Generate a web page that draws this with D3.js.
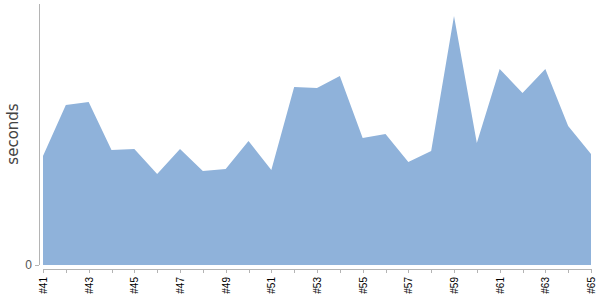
<!DOCTYPE html>
<meta charset="utf-8">
<body style="margin:0">
  <style>
    body { font-family: "DejaVu Sans", sans-serif; }
    .axis path, .axis line { stroke: #b4b4b4; shape-rendering: crispEdges; }
    .area { fill: #8fb2da; }
  </style>
  <script src="https://d3js.org/d3.v7.min.js"></script>
  <script>
    var builds = d3.range(41, 66);
    var seconds = [10.9, 16.0, 16.3, 11.5, 11.6, 9.1, 11.6, 9.4, 9.6, 12.4, 9.5, 17.8, 17.7,
                   18.9, 12.7, 13.1, 10.3, 11.4, 24.9, 12.2, 19.6, 17.2, 19.6, 13.9, 11.1];
    var tickLabels = builds.map(function(b) { return "#" + b; });

    var width = 600, height = 300;

    var svg = d3.select("body").append("svg")
      .attr("width", width)
      .attr("height", height);

    var x = d3.scaleLinear().domain([41, 65]).range([43, 591]);
    var y = d3.scaleLinear().domain([0, 26.1]).range([265, 4]);

    var area = d3.area()
      .x(function(d, i) { return x(builds[i]); })
      .y0(y(0))
      .y1(function(d) { return y(d); });

    svg.append("path")
      .datum(seconds)
      .attr("class", "area")
      .attr("d", area);

    // x axis
    var xAxis = svg.append("g")
      .attr("class", "axis")
      .attr("transform", "translate(0,269)")
      .call(d3.axisBottom(x)
        .tickValues(builds)
        .tickSize(4)
        .tickSizeOuter(0)
        .tickFormat(function(d, i) { return i % 2 == 0 ? tickLabels[i] : ""; }));
    xAxis.selectAll("text")
      .attr("transform", "rotate(-90)")
      .attr("text-anchor", "end")
      .attr("x", -8)
      .attr("y", 0)
      .attr("dy", "0.35em")
      .attr("fill", "#000")
      .style("font-size", "10px");

    // y axis
    var yAxis = svg.append("g")
      .attr("class", "axis")
      .attr("transform", "translate(39,0)")
      .call(d3.axisLeft(y).tickValues([0]).tickSize(4).tickSizeOuter(0));
    yAxis.select(".domain").attr("d", "M0," + y.range()[1] + "V" + y.range()[0]);
    yAxis.selectAll("text")
      .attr("fill", "#555")
      .style("font-size", "12px");

    svg.append("text")
      .attr("transform", "translate(18,134) rotate(-90)")
      .attr("text-anchor", "middle")
      .attr("fill", "#444")
      .style("font-size", "15px")
      .text("seconds");
  </script>
</body>
